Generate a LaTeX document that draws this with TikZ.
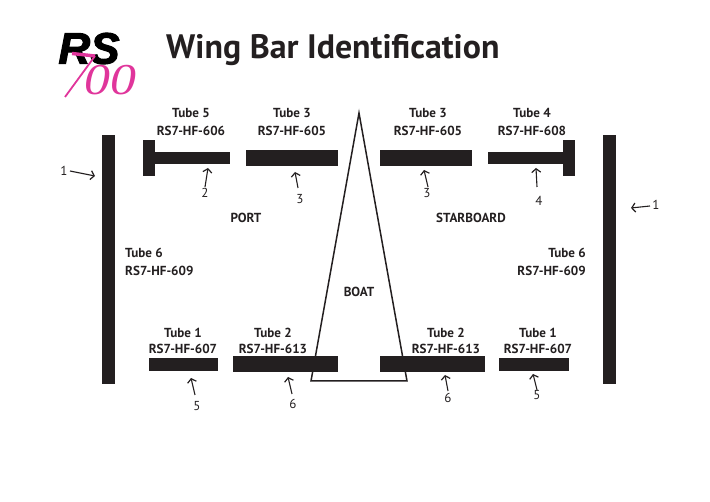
\documentclass[tikz,border=0pt]{standalone}
\usepackage{fontspec}
\setmainfont{PT Sans}
\newfontfamily\logoserif{Liberation Serif}
\newfontfamily\logosans[FakeBold=2.5]{Liberation Sans}
\usetikzlibrary{arrows.meta}
\definecolor{ink}{HTML}{231F20}
\definecolor{rspink}{HTML}{E0359B}
\tikzset{
  bar/.style={fill=ink,draw=none,inner sep=0pt,outer sep=0pt},
  tube/.style={font=\fontsize{13.1}{14}\selectfont\bfseries,text=ink,inner sep=0pt},
  num/.style={font=\fontsize{13}{14}\selectfont,text=ink,inner sep=0pt},
  ptr/.style={draw=ink,line width=1.1pt,-{Straight Barb[length=3.6pt,width=9pt,line width=1.2pt]}},
}
\begin{document}
\begin{tikzpicture}[x=1pt,y=-1pt]
\useasboundingbox (0,0) rectangle (710,502);
% logo
\node[inner sep=0pt,text=black,font=\logosans\fontsize{44}{44}\selectfont\bfseries\itshape] (logoRS) at (89,48.5) {RS};
\node[inner sep=0pt,text=rspink,font=\logoserif\fontsize{44}{44}\selectfont\itshape,xscale=1.18] (logo00) at (110.5,80.5) {00};
\coordinate (sevenA) at (72,53.5);
\coordinate (sevenB) at (95,56);
\coordinate (sevenC) at (65,97);
\draw[rspink,line width=1.8pt,line join=miter] (sevenB) -- (sevenC);
\draw[rspink,line width=3.4pt] (sevenA) -- (sevenB);
% title
\node[inner sep=0pt,anchor=west,text=ink,font=\fontsize{33.9}{36}\selectfont\bfseries] (title) at (166,50.5) {Wing Bar Identification};
% boat
\coordinate (bowtip) at (359,113);
\coordinate (sternL) at (311,381);
\coordinate (sternR) at (407,381);
\draw[ink,line width=1.5pt,line join=miter] (bowtip) -- (sternL) -- (sternR) -- cycle;
% side bars
\node[bar,minimum width=13pt,minimum height=249pt] (sideL) at (108.5,259.5) {};
\node[bar,minimum width=13pt,minimum height=249pt] (sideR) at (609.5,259.5) {};
% top bars
\node[bar,minimum width=12pt,minimum height=36pt] (t5cap) at (149,158) {};
\node[bar,minimum width=75pt,minimum height=12pt] (t5) at (192.5,158) {};
\node[bar,minimum width=92pt,minimum height=16pt] (t3L) at (292,158) {};
\node[bar,minimum width=92pt,minimum height=16pt] (t3R) at (426,158) {};
\node[bar,minimum width=75pt,minimum height=12pt] (t4) at (525.5,158) {};
\node[bar,minimum width=12pt,minimum height=36pt] (t4cap) at (569,158) {};
% bottom bars
\node[bar,minimum width=69pt,minimum height=13pt] (t1L) at (183.5,364.5) {};
\node[bar,minimum width=105pt,minimum height=16pt] (t2L) at (285.5,364) {};
\node[bar,minimum width=105pt,minimum height=16pt] (t2R) at (432.5,364) {};
\node[bar,minimum width=70pt,minimum height=13pt] (t1R) at (534,364.5) {};
% labels
\node[tube] (l5a) at (191,113) {Tube 5};
\node[tube] (l5b) at (191,131) {RS7-HF-606};
\node[tube] (l3a) at (292,113) {Tube 3};
\node[tube] (l3b) at (292,131) {RS7-HF-605};
\node[tube] (l3c) at (428,113) {Tube 3};
\node[tube] (l3d) at (428,131) {RS7-HF-605};
\node[tube] (l4a) at (532,113) {Tube 4};
\node[tube] (l4b) at (532,131) {RS7-HF-608};
\node[tube,anchor=west] (l6a) at (125,253) {Tube 6};
\node[tube,anchor=west] (l6b) at (125,271) {RS7-HF-609};
\node[tube,anchor=east] (l6c) at (586,253) {Tube 6};
\node[tube,anchor=east] (l6d) at (586,271) {RS7-HF-609};
\node[tube] (port) at (246,218) {PORT};
\node[tube] (star) at (471,218) {STARBOARD};
\node[tube] (boat) at (359,292) {BOAT};
\node[tube] (l1a) at (183,333) {Tube 1};
\node[tube] (l1b) at (183,349) {RS7-HF-607};
\node[tube] (l2a) at (273,333) {Tube 2};
\node[tube] (l2b) at (273,349) {RS7-HF-613};
\node[tube] (l2c) at (446,333) {Tube 2};
\node[tube] (l2d) at (446,349) {RS7-HF-613};
\node[tube] (l1c) at (538,333) {Tube 1};
\node[tube] (l1d) at (538,349) {RS7-HF-607};
% numbers
\node[num] (n1L) at (64,170.5) {1};
\node[num] (n1R) at (656,205) {1};
\node[num] (n2) at (205,193) {2};
\node[num] (n3L) at (300,199) {3};
\node[num] (n3R) at (427,193) {3};
\node[num] (n4) at (539,201) {4};
\node[num] (n5L) at (197,406) {5};
\node[num] (n6L) at (293,404) {6};
\node[num] (n6R) at (448,398) {6};
\node[num] (n5R) at (537,395) {5};
% pointer tips and tails
\coordinate (p1Ls) at (70,171);   \coordinate (p1Le) at (95,176);
\coordinate (p1Rs) at (650,206);  \coordinate (p1Re) at (631,208);
\coordinate (p2s) at (205,187);   \coordinate (p2e) at (208,168);
\coordinate (p3Ls) at (298,188);  \coordinate (p3Le) at (295,172);
\coordinate (p3Rs) at (428,187);  \coordinate (p3Re) at (424,170);
\coordinate (p4s) at (537,187);   \coordinate (p4e) at (536,168);
\coordinate (p5Ls) at (195,395);  \coordinate (p5Le) at (191,378);
\coordinate (p6Ls) at (292,394);  \coordinate (p6Le) at (288,377);
\coordinate (p6Rs) at (448,391);  \coordinate (p6Re) at (445,375);
\coordinate (p5Rs) at (537,390);  \coordinate (p5Re) at (533,374);
\foreach \k in {1L,1R,2,3L,3R,4,5L,6L,6R,5R}{\draw[ptr] (p\k s) -- (p\k e);}
\end{tikzpicture}
\end{document}
